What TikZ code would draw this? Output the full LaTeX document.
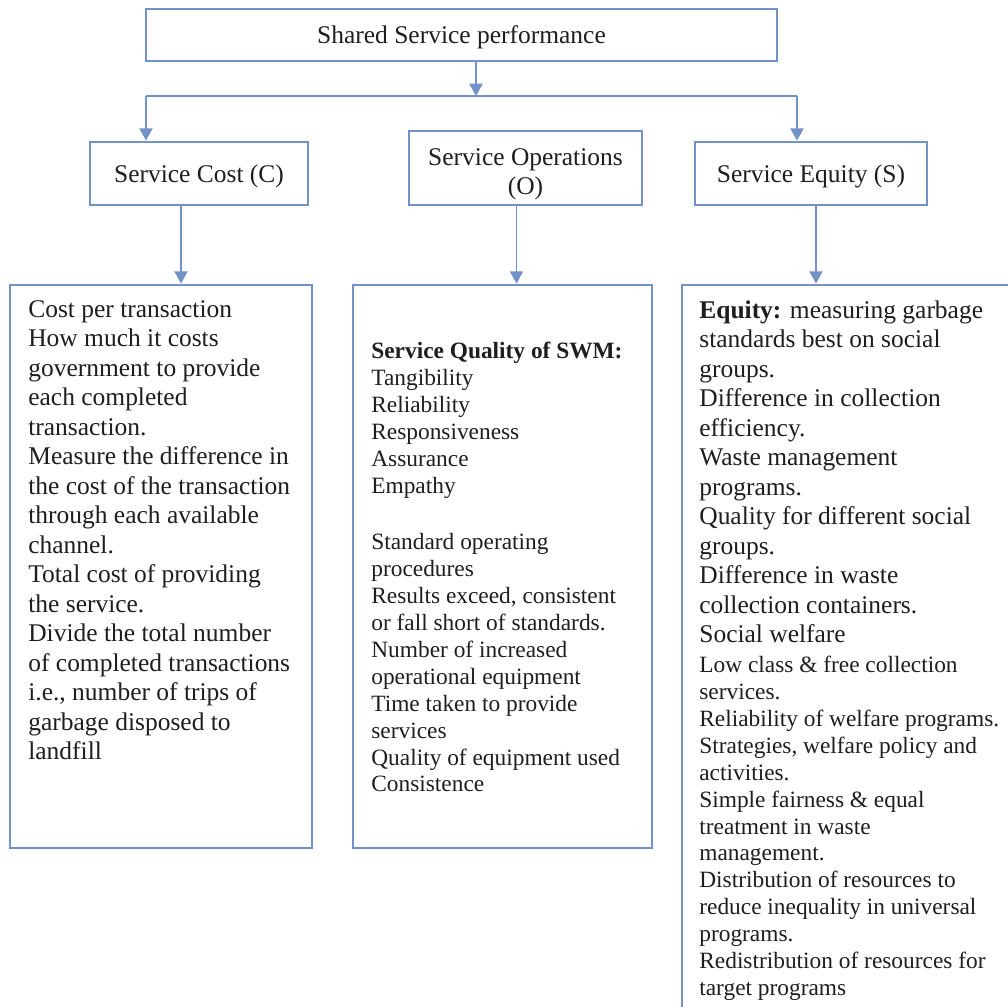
\documentclass[tikz,border=0pt]{standalone}
\usepackage{fontspec}
\setmainfont{Liberation Serif}
\usetikzlibrary{arrows.meta,fit,calc}
\definecolor{boxblue}{RGB}{114,146,200}
\definecolor{ink}{RGB}{30,30,30}

\begin{document}
\begin{tikzpicture}[x=0.02cm, y=-0.02cm,
		box/.style={draw=boxblue, line width=1.6pt, inner sep=0pt},
		boxlabel/.style={inner sep=0pt, yshift=-1.5pt, text=ink, align=center, font=\fontsize{14.5}{16.8}\selectfont},
		link/.style={draw=boxblue, line width=0.9pt},
		arr/.style={link, -{Triangle[width=7.5pt, length=7pt]}},
		bigtext/.style={anchor=north west, inner sep=0pt, align=left, text=ink, font=\fontsize{14.5}{16.8}\selectfont},
		smalltext/.style={bigtext, font=\fontsize{13.3}{15.3}\selectfont}]
					\clip (0,0) rectangle (1008,1007);
					
					\node[box, fit={(146,9) (777,61)}, label={[boxlabel]center:Shared Service performance}] (perf) {};
					\node[box, fit={(90,142) (308,205)}, label={[boxlabel]center:Service Cost (C)}] (cost) {};
					\node[box, fit={(409,131) (642,205)}, label={[boxlabel, yshift=-2pt]center:Service Operations\\(O)}] (ops) {};
					\node[box, fit={(695,142) (927,205)}, label={[boxlabel]center:Service Equity (S)}] (equity) {};
					
					\node[box, fit={(10,285) (312,848)}] (costbox) {};
					\node[box, fit={(353,285) (652,848)}] (opsbox) {};
					\node[box, fit={(682,285) (1040,1040)}] (equitybox) {};
					
					\coordinate (split) at (476,96);
					\coordinate (jc) at (146,96);
					\coordinate (je) at (797,96);
					\draw[arr] (perf.south -| split) -- (split);
					\draw[link] (jc) -- (je);
					\draw[arr] (jc) -- (jc |- cost.north);
					\draw[arr] (je) -- (je |- equity.north);
					
					\draw[arr] ($(cost.south)+(-18,0)$) coordinate (c1) -- (c1 |- costbox.north);
					\draw[arr] ($(ops.south)+(-9,0)$) coordinate (o1) -- (o1 |- opsbox.north);
					\draw[arr] ($(equity.south)+(5,0)$) coordinate (e1) -- (e1 |- equitybox.north);
					
					\node[bigtext] (costtxt) at (28,300) {Cost per transaction\\How much it costs\\government to provide\\each completed\\transaction.\\Measure the difference in\\the cost of the transaction\\through each available\\channel.\\Total cost of providing\\the service.\\Divide the total number\\of completed transactions\\i.e., number of trips of\\garbage disposed to\\landfill};
					
					\node[smalltext] (opstxt) at (371,342) {\textbf{Service Quality of SWM:}\\Tangibility\\Reliability\\Responsiveness\\Assurance\\Empathy\\[17pt]Standard operating\\procedures\\Results exceed, consistent\\or fall short of standards.\\Number of increased\\operational equipment\\Time taken to provide\\services\\Quality of equipment used\\Consistence};
					
					\node[bigtext] (equitytxt) at (699,300) {\textbf{Equity:} measuring garbage\\standards best on social\\groups.\\Difference in collection\\efficiency.\\Waste management\\programs.\\Quality for different social\\groups.\\Difference in waste\\collection containers.\\Social welfare};
					\node[smalltext] (welfaretxt) at (699,656) {Low class \& free collection\\services.\\Reliability of welfare programs.\\Strategies, welfare policy and\\activities.\\Simple fairness \& equal\\treatment in waste\\management.\\Distribution of resources to\\reduce inequality in universal\\programs.\\Redistribution of resources for\\target programs};
					
				\end{tikzpicture}
\end{document}
